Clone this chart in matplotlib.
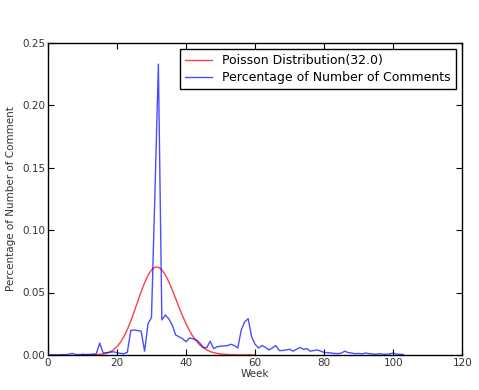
import numpy as np
import matplotlib
matplotlib.use("Agg")
import matplotlib.pyplot as plt

# Poisson(32) curve (week -> probability)
poisson_weeks = list(range(10, 61))
poisson_vals = [
    0.0000, 0.0000, 0.0000, 0.0001, 0.0002, 0.0004, 0.0007, 0.0014, 0.0024, 0.0041,
    0.0066, 0.0100, 0.0146, 0.0203, 0.0271, 0.0347, 0.0427, 0.0506, 0.0578, 0.0638,
    0.0681, 0.0703, 0.0703, 0.0682, 0.0642, 0.0587, 0.0522, 0.0451, 0.0380, 0.0312,
    0.0250, 0.0195, 0.0148, 0.0110, 0.0080, 0.0057, 0.0040, 0.0027, 0.0018, 0.0012,
    0.0008, 0.0005, 0.0003, 0.0002, 0.0001, 0.0000, 0.0000, 0.0000, 0.0000, 0.0000,
    0.0000,
]

# share of comments per week
comment_weeks = list(range(0, 104))
comment_pct = [
    0.0000, 0.0000, 0.0002, 0.0000, 0.0003, 0.0002, 0.0005, 0.0012, 0.0004, 0.0003,
    0.0005, 0.0003, 0.0004, 0.0006, 0.0008, 0.0095, 0.0015, 0.0018, 0.0022, 0.0025,
    0.0018, 0.0012, 0.0010, 0.0020, 0.0195, 0.0200, 0.0195, 0.0190, 0.0030, 0.0250,
    0.0300, 0.1300, 0.2330, 0.0280, 0.0320, 0.0290, 0.0240, 0.0160, 0.0145, 0.0130,
    0.0105, 0.0135, 0.0130, 0.0120, 0.0095, 0.0060, 0.0058, 0.0110, 0.0050, 0.0065,
    0.0070, 0.0072, 0.0075, 0.0085, 0.0075, 0.0055, 0.0200, 0.0265, 0.0290, 0.0145,
    0.0085, 0.0055, 0.0075, 0.0060, 0.0040, 0.0055, 0.0075, 0.0035, 0.0035, 0.0040,
    0.0045, 0.0030, 0.0045, 0.0060, 0.0045, 0.0050, 0.0030, 0.0035, 0.0040, 0.0030,
    0.0020, 0.0018, 0.0015, 0.0012, 0.0010, 0.0015, 0.0030, 0.0018, 0.0015, 0.0010,
    0.0012, 0.0008, 0.0015, 0.0010, 0.0008, 0.0005, 0.0010, 0.0005, 0.0005, 0.0008,
    0.0015, 0.0005, 0.0005, 0.0003,
]

plt.rcParams["font.family"] = "DejaVu Sans"

fig = plt.figure(figsize=(4.79, 3.90), dpi=100)
ax = fig.add_axes([0.100, 0.090, 0.865, 0.800])

ax.plot(poisson_weeks, poisson_vals, color="r", alpha=0.75, lw=1.0,
        label="Poisson Distribution(32.0)")
ax.plot(comment_weeks, comment_pct, color="b", alpha=0.7, lw=1.0,
        label="Percentage of Number of Comments")

ax.set_xlim(0, 120)
ax.set_ylim(0, 0.25)
ax.set_xticks(np.arange(0, 121, 20))
ax.set_yticks(np.arange(0, 0.251, 0.05))
ax.set_yticklabels(["0.00", "0.05", "0.10", "0.15", "0.20", "0.25"])
ax.tick_params(direction="in", top=True, right=True, length=4, labelsize=7.5,
               labelcolor="#333333", pad=2)
for s in ax.spines.values():
    s.set_color("black")
    s.set_linewidth(1.0)

ax.set_xlabel("Week", fontsize=7.5, color="#333333", labelpad=1)
ax.set_ylabel("Percentage of Number of Comment", fontsize=7.5, color="#333333")

leg = ax.legend(loc="upper right", fontsize=9, fancybox=False, framealpha=1,
                edgecolor="black", handlelength=2.2, borderpad=0.4,
                labelspacing=0.3)
leg.get_frame().set_linewidth(1.0)

fig.savefig("out.png", dpi=100)
